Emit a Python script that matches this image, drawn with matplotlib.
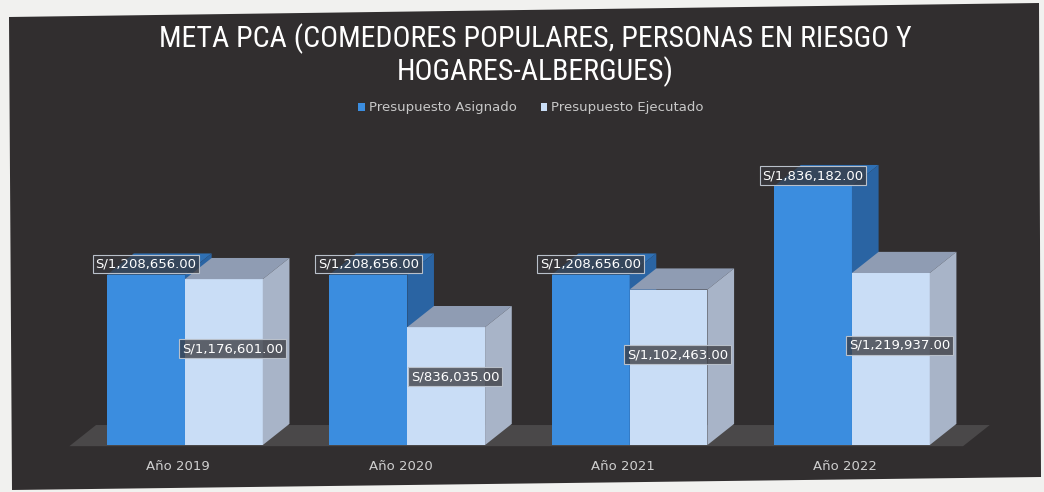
import numpy as np
import matplotlib.pyplot as plt
from matplotlib.patches import Polygon, Patch
from matplotlib import font_manager

years = ['Año 2019', 'Año 2020', 'Año 2021', 'Año 2022']
asignado = [1208656, 1208656, 1208656, 1836182]
ejecutado = [1176601, 836035, 1102463, 1219937]
series = ['Presupuesto Asignado', 'Presupuesto Ejecutado']

W, H = 1044, 492


def fpx(x, y):
    # pixel position (from top-left) -> figure fraction
    return (x / W, 1 - y / H)


# narrow face for the title if one is available
installed = {f.name for f in font_manager.fontManager.ttflist}
title_font = next((f for f in ['Liberation Sans Narrow', 'DejaVu Sans Condensed', 'Roboto Condensed']
                   if f in installed), 'Roboto')

fig = plt.figure(figsize=(W / 100, H / 100), dpi=100)
fig.patch.set_facecolor('#f1f1ef')

# dark chart panel, slightly skewed
panel = Polygon([fpx(9, 17), fpx(1039, 3), fpx(1041, 477), fpx(12, 490)],
                closed=True, transform=fig.transFigure,
                facecolor='#312e2f', edgecolor='none', zorder=0)
fig.add_artist(panel)

ax = fig.add_axes([0, 0, 1, 1])
ax.set_xlim(-0.832, 3.864)
ax.set_ylim(-333e3, 3.156e6)
ax.axis('off')
ax.patch.set_alpha(0)

w = 0.35          # bar width
dx, dy = 0.12, 150e3  # depth offset of the 3d boxes

colors = {
    'asig': ('#3b8ddf', '#2f70b4', '#2a64a3'),
    'ejec': ('#c9ddf6', '#8f9cb3', '#a8b4c8'),
}

# floor
x = np.arange(len(years))
floor = Polygon([(x[0] - 0.52, -8e3), (x[-1] + 0.50, -8e3),
                 (x[-1] + 0.50 + dx, dy - 8e3), (x[0] - 0.52 + dx, dy - 8e3)],
                closed=True, facecolor='#4a4849', edgecolor='none', zorder=1)
ax.add_patch(floor)


def box3d(x0, h, cols, z):
    front, top, side = cols
    ax.bar(x0, h, width=w, align='edge', color=front, zorder=z)
    ax.add_patch(Polygon([(x0, h), (x0 + w, h), (x0 + w + dx, h + dy), (x0 + dx, h + dy)],
                         closed=True, facecolor=top, edgecolor='none', zorder=z))
    ax.add_patch(Polygon([(x0 + w, 0), (x0 + w + dx, dy), (x0 + w + dx, h + dy), (x0 + w, h)],
                         closed=True, facecolor=side, edgecolor='none', zorder=z))


label_box = dict(boxstyle='square,pad=0.22', fc=(0.22, 0.22, 0.24, 0.75),
                 ec='#b9c0ca', lw=0.8)

for i in range(len(years)):
    z = 2 + 2 * i
    box3d(x[i] - w, asignado[i], colors['asig'], z)
    box3d(x[i], ejecutado[i], colors['ejec'], z + 1)

    ax.text(x[i] - w / 2, asignado[i] + 75e3, f'S/{asignado[i]:,.2f}',
            ha='center', va='center', color='white', fontsize=9.5,
            bbox=label_box, zorder=20)
    ax.text(x[i] + w / 2 + 0.04, ejecutado[i] * 0.58, f'S/{ejecutado[i]:,.2f}',
            ha='center', va='center', color='white', fontsize=9.5,
            bbox=label_box, zorder=20)
    ax.text(x[i] - 0.03, -150e3, years[i], ha='center', va='center',
            color='#cfcfcf', fontsize=9.5, zorder=20)

fig.text(*fpx(535, 55), 'META PCA (COMEDORES POPULARES, PERSONAS EN RIESGO Y\nHOGARES-ALBERGUES)',
         ha='center', va='center', color='white', fontsize=21.5, linespacing=1.12,
         family=[title_font, 'DejaVu Sans'])

handles = [Patch(facecolor=colors['asig'][0]), Patch(facecolor=colors['ejec'][0])]
ax.legend(handles, series, loc='center', bbox_to_anchor=fpx(531, 108),
          bbox_transform=fig.transFigure, ncol=2, frameon=False, fontsize=9.5,
          labelcolor='#c8c8c8', handlelength=0.5, handleheight=0.5,
          columnspacing=1.8, handletextpad=0.3)

fig.savefig('out.png', dpi=100, facecolor=fig.get_facecolor())
